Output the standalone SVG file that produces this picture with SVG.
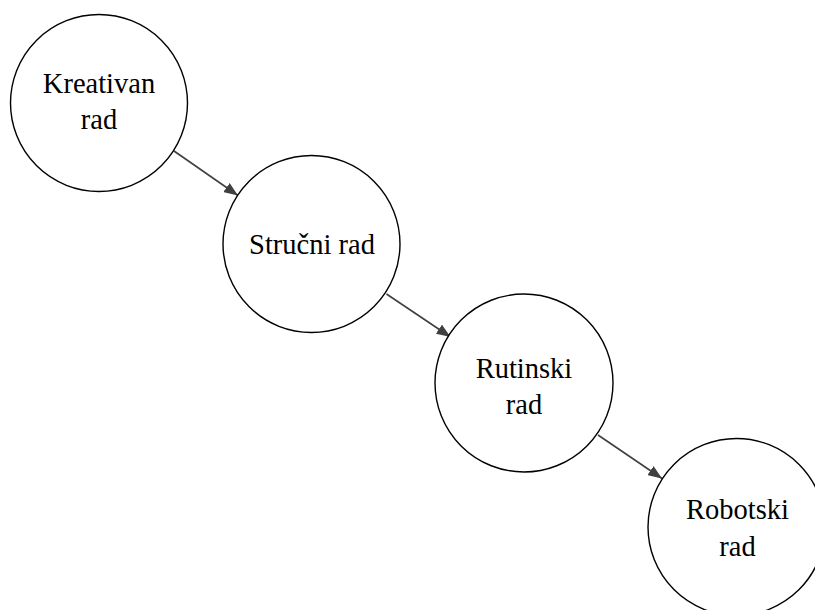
<svg xmlns="http://www.w3.org/2000/svg" width="815" height="610" viewBox="0 0 815 610">
<defs>
<style>
.node circle{fill:#fff;stroke:#000;stroke-width:1.4}
.node text{font-family:'Liberation Serif','Times New Roman',serif;font-size:28.5px;fill:#000;text-anchor:middle}
.conn line{stroke:#404040;stroke-width:1.6;fill:none}
</style>
<marker id="ah" viewBox="0 0 14 11" refX="14" refY="5.5" markerWidth="14" markerHeight="11" markerUnits="userSpaceOnUse" orient="auto">
<path d="M0,0 L14,5.5 L0,11 z" fill="#404040"/>
</marker>
</defs>
<rect width="815" height="610" fill="#fff"/>
<g id="connectors" class="conn">
<line x1="174" y1="151" x2="238" y2="195.5" marker-end="url(#ah)"/>
<line x1="386.5" y1="294" x2="450.5" y2="337" marker-end="url(#ah)"/>
<line x1="598" y1="435" x2="662" y2="478.5" marker-end="url(#ah)"/>
</g>
<g id="n1" class="node">
<circle cx="99" cy="103" r="88.5"/>
<text x="99" y="93.3" font-family="Liberation Serif, serif">Kreativan</text>
<text x="99" y="129" font-family="Liberation Serif, serif">rad</text>
</g>
<g id="n2" class="node">
<circle cx="311.5" cy="244" r="88.5"/>
<text x="312" y="254" font-family="Liberation Serif, serif">Stručni rad</text>
</g>
<g id="n3" class="node">
<circle cx="524" cy="383" r="89"/>
<text x="524" y="378.3" font-family="Liberation Serif, serif">Rutinski</text>
<text x="524" y="414.3" font-family="Liberation Serif, serif">rad</text>
</g>
<g id="n4" class="node">
<circle cx="736.5" cy="527" r="88.5"/>
<text x="737.5" y="519" font-family="Liberation Serif, serif">Robotski</text>
<text x="737.5" y="555.7" font-family="Liberation Serif, serif">rad</text>
</g>
</svg>
